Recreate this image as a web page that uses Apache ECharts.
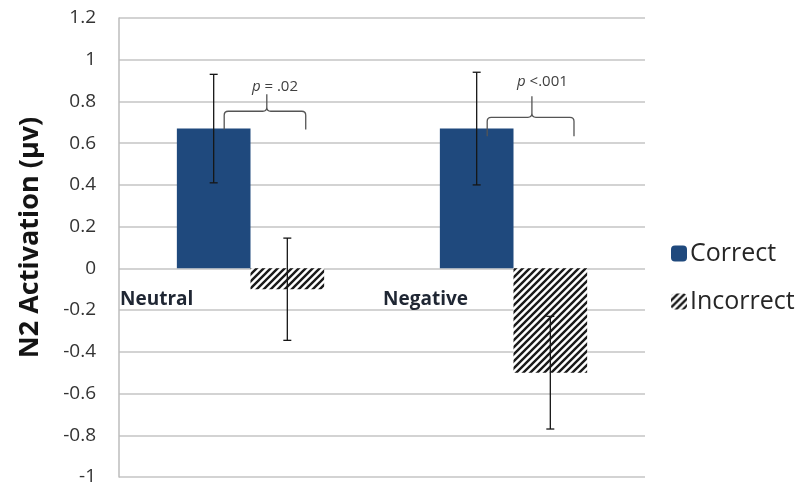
<!DOCTYPE html>
<html>
<head>
<meta charset="utf-8">
<script src="https://cdn.jsdelivr.net/npm/echarts@6/dist/echarts.min.js"></script>
<style>
  html, body { margin: 0; padding: 0; background: #ffffff; }
  #chart { width: 809px; height: 489px; }
</style>
</head>
<body>
<div id="chart"></div>
<script>
// Mean N2 activation per valence condition, split by response accuracy
const categories = ['Neutral', 'Negative'];
const correctValues = [0.67, 0.67];
const incorrectValues = [-0.10, -0.50];
const correctErrors = [0.26, 0.27];
const incorrectErrors = [0.245, 0.27];
const pLabels = ['p = .02', 'p <.001'];

const FONT = '"Open Sans", "Liberation Sans", sans-serif';
const BAR_FRACTION = 0.28; // bar width as a share of the category band

// Diagonal hatch fill for the "Incorrect" bars
function makeHatch() {
  const s = 7;
  const c = document.createElement('canvas');
  c.width = s; c.height = s;
  const g = c.getContext('2d');
  g.fillStyle = '#ffffff';
  g.fillRect(0, 0, s, s);
  g.strokeStyle = '#1a1a1a';
  g.lineWidth = 2.4;
  g.beginPath();
  [-s, 0, s].forEach(k => {
    g.moveTo(k - 1, s + 1);
    g.lineTo(k + s + 1, -1);
  });
  g.stroke();
  return c;
}
const hatch = { image: makeHatch(), repeat: 'repeat' };

function errorBars(values, errors, side) {
  return {
    type: 'custom',
    xAxisIndex: 0,
    yAxisIndex: 0,
    silent: true,
    z: 5,
    data: values.map((v, i) => [i, v - errors[i], v + errors[i]]),
    renderItem(params, api) {
      const i = api.value(0);
      const band = api.size([1, 0])[0];
      const x = api.coord([i, 0])[0] + side * band * BAR_FRACTION / 2;
      const lo = api.coord([i, api.value(1)])[1];
      const hi = api.coord([i, api.value(2)])[1];
      const cap = 4;
      const st = { stroke: '#161616', lineWidth: 1.3 };
      return {
        type: 'group',
        children: [
          { type: 'line', shape: { x1: x, y1: hi, x2: x, y2: lo }, style: st },
          { type: 'line', shape: { x1: x - cap, y1: hi, x2: x + cap, y2: hi }, style: st },
          { type: 'line', shape: { x1: x - cap, y1: lo, x2: x + cap, y2: lo }, style: st }
        ]
      };
    }
  };
}

// Category names, left-aligned to each band just under the zero line
const categoryLabels = {
  type: 'custom',
  xAxisIndex: 0,
  yAxisIndex: 0,
  silent: true,
  z: 7,
  data: categories.map((c, i) => [i]),
  renderItem(params, api) {
    const i = api.value(0);
    const band = api.size([1, 0])[0];
    const [cx, y0] = api.coord([i, 0]);
    return {
      type: 'text',
      x: cx - band / 2 + 1,
      y: y0 + 31,
      style: {
        text: categories[i],
        align: 'left',
        verticalAlign: 'middle',
        fontSize: 19,
        fontWeight: 'bold',
        fontFamily: FONT,
        fill: '#1f2633'
      }
    };
  }
};

// Curly-brace significance markers over each condition
const braceShape = [
  { end: 0.665, bar: 0.753, tip: 0.834, text: 0.872, left: -0.10, right: 0.21, mid: 0.062, tx: 0.093 },
  { end: 0.633, bar: 0.724, tip: 0.825, text: 0.896, left: -0.10, right: 0.23, mid: 0.07, tx: 0.11 }
];

const braces = {
  type: 'custom',
  xAxisIndex: 0,
  yAxisIndex: 0,
  silent: true,
  z: 6,
  data: pLabels.map((t, i) => [i]),
  renderItem(params, api) {
    const i = api.value(0);
    const b = braceShape[i];
    const band = api.size([1, 0])[0];
    const cx = api.coord([i, 0])[0];
    const L = cx + b.left * band, R = cx + b.right * band, T = cx + b.mid * band;
    const yE = api.coord([i, b.end])[1];
    const yH = api.coord([i, b.bar])[1];
    const yT = api.coord([i, b.tip])[1];
    const r = 4;
    const d = `M${L},${yE} L${L},${yH + r} Q${L},${yH} ${L + r},${yH} L${T - r},${yH} Q${T},${yH} ${T},${yH - r} L${T},${yT}` +
              ` M${T},${yH - r} Q${T},${yH} ${T + r},${yH} L${R - r},${yH} Q${R},${yH} ${R},${yH + r} L${R},${yE}`;
    const label = pLabels[i];
    return {
      type: 'group',
      children: [
        { type: 'path', shape: { pathData: d }, style: { fill: null, stroke: '#555555', lineWidth: 1.3 } },
        {
          type: 'text',
          x: cx + b.tx * band,
          y: api.coord([i, b.text])[1],
          style: {
            text: '{i|p}' + label.slice(1),
            align: 'center',
            verticalAlign: 'middle',
            fill: '#404040',
            fontSize: 15,
            fontFamily: FONT,
            rich: { i: { fontStyle: 'italic', fontSize: 15, fill: '#404040', fontFamily: FONT } }
          }
        }
      ]
    };
  }
};

const chart = echarts.init(document.getElementById('chart'));
chart.setOption({
  backgroundColor: '#ffffff',
  animation: false,
  grid: { left: 119, right: 164, top: 18, bottom: 12, outerBoundsMode: 'none' },
  legend: {
    data: ['Correct', 'Incorrect'],
    orient: 'vertical',
    left: 666,
    top: 236,
    itemWidth: 16,
    itemHeight: 16,
    itemGap: 23,
    textStyle: { fontSize: 25, color: '#262626', fontFamily: FONT, padding: [0, 0, 0, -2] }
  },
  xAxis: {
    type: 'category',
    data: categories,
    axisLine: { show: false },
    axisTick: { show: false },
    axisLabel: { show: false },
    splitLine: { show: false }
  },
  yAxis: {
    type: 'value',
    min: -1,
    max: 1.2,
    interval: 0.2,
    name: 'N2 Activation (μv)',
    nameLocation: 'middle',
    nameGap: 75,
    nameTextStyle: { fontSize: 27, fontWeight: 'bold', color: '#141414', fontFamily: FONT, padding: [0, 0, 0, 20] },
    axisLine: { show: true, lineStyle: { color: '#bdbdbd', width: 1.5 } },
    axisTick: { show: false },
    axisLabel: {
      margin: 23,
      fontSize: 19,
      color: '#333333',
      fontFamily: FONT,
      formatter: v => String(Math.round(v * 10) / 10)
    },
    splitLine: { show: true, lineStyle: { color: '#c4c4c4', width: 1.5 } }
  },
  series: [
    {
      name: 'Correct',
      type: 'bar',
      data: correctValues,
      barWidth: (BAR_FRACTION * 100) + '%',
      barGap: '0%',
      itemStyle: { color: '#1f497d' }
    },
    {
      name: 'Incorrect',
      type: 'bar',
      data: incorrectValues,
      barWidth: (BAR_FRACTION * 100) + '%',
      barGap: '0%',
      itemStyle: { color: hatch }
    },
    errorBars(correctValues, correctErrors, -1),
    errorBars(incorrectValues, incorrectErrors, 1),
    braces,
    categoryLabels
  ]
});
</script>
</body>
</html>
